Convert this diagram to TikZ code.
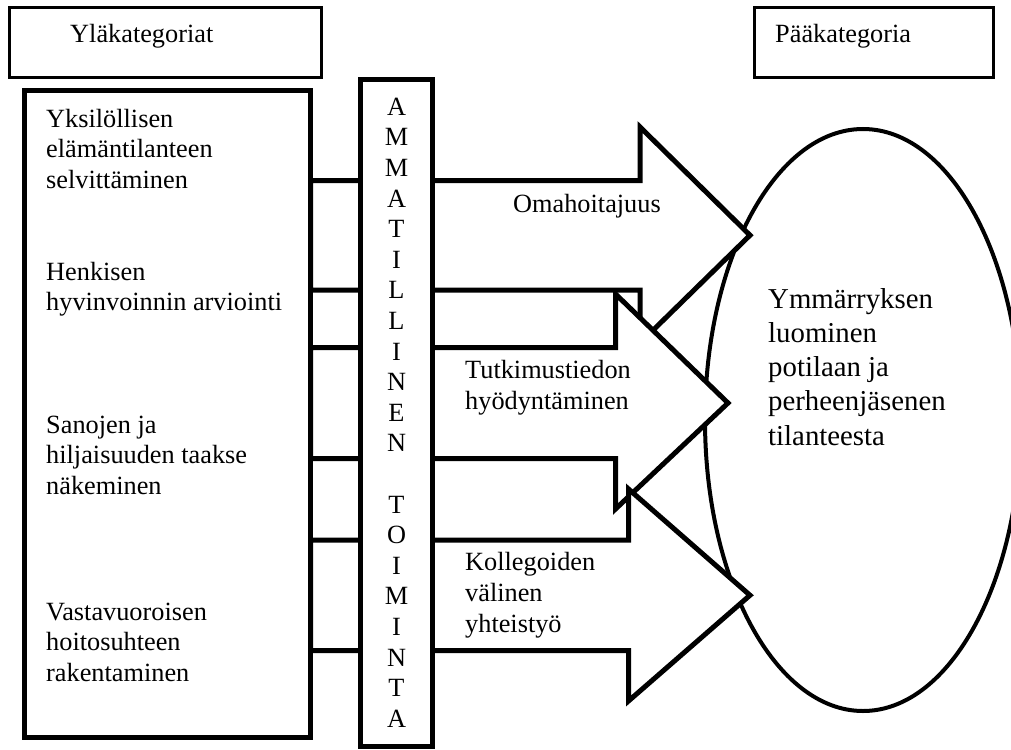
\documentclass[tikz,border=0pt]{standalone}
\usepackage{fontspec}
\setmainfont{Liberation Serif}
\usetikzlibrary{shapes.geometric}

% one block arrow: shaft from the category box to #3, head from #4 to #5, tip at x = #6
\newcommand\flowarrow[6]{%
  \draw[flow] (cats.east |- 0,#1) -- (#3,#1) -- (#3,#4) -- (#6,{(#1+#2)/2})
    -- (#3,#5) -- (#3,#2) -- (cats.east |- 0,#2) -- cycle;}

\begin{document}
\begin{tikzpicture}[x=1pt,y=-1pt,
  headbox/.style={draw, line width=3pt, inner sep=0pt},
  frame/.style={draw, line width=5pt, fill=white, inner sep=0pt, outer sep=0pt},
  flow/.style={draw, line width=5pt, fill=white, line join=miter, miter limit=10},
  body/.style={font=\fontsize{26.3}{30.5}\selectfont},
  txt/.style={body, inner sep=0pt, align=left, anchor=north west},
  lbl/.style={inner sep=0pt, align=left, anchor=north west, font=\fontsize{26.3}{31}\selectfont},
  title/.style={body, inner sep=0pt, anchor=base west}]
\useasboundingbox (0,0) rectangle (1011,749);
\clip (0,0) rectangle (1011,749);

% headings
\node[headbox, minimum width=312, minimum height=70] (upperbox) at (165.5,42.5) {};
\node[title] (uppertitle) at (70,43) {Yläkategoriat};
\node[headbox, minimum width=239, minimum height=70] (mainbox) at (874,42.5) {};
\node[title] (maintitle) at (775,43) {Pääkategoria};

% main category
\node[draw, line width=4pt, ellipse, inner sep=0pt,
      minimum width=316, minimum height=582] (main) at (863,420) {};

% upper categories
\node[frame, minimum width=286, minimum height=647] (cats) at (167.5,414) {};
\node[txt] (c1) at (46,105.65) {\strut Yksilöllisen\\elämäntilanteen\\selvittäminen};
\node[txt] (c2) at (46,258.65) {\strut Henkisen\\hyvinvoinnin arviointi};
\node[txt] (c3) at (46,411.65) {\strut Sanojen ja\\hiljaisuuden taakse\\näkeminen};
\node[txt] (c4) at (46,598.65) {\strut Vastavuoroisen\\hoitosuhteen\\rakentaminen};

% block arrows towards the main category
\flowarrow{180.5}{290}{640}{127}{343}{750}
\flowarrow{347.5}{458.5}{615.5}{294}{509}{728}
\flowarrow{540}{650.5}{628.5}{489}{701}{750}

\node[title] (a1) at (513,212) {Omahoitajuus};
\node[lbl] (a2) at (465,356.3) {\strut Tutkimustiedon\\hyödyntäminen};
\node[lbl] (a3) at (465,548.3) {\strut Kollegoiden\\välinen\\yhteistyö};

% vertical bar
\node[frame, minimum width=72, minimum height=667] (bar) at (396.5,413) {};
\node[inner sep=0pt, anchor=north, align=center,
      font=\fontsize{26.3}{30.6}\selectfont] (bartext) at (396.5,93.58)
  {\strut A\\M\\M\\A\\T\\I\\L\\L\\I\\N\\E\\N\\\strut\\T\\O\\I\\M\\I\\N\\T\\A};

% main category text
\node[inner sep=0pt, align=left, anchor=north west,
      font=\fontsize{28.8}{34.2}\selectfont] (maintext) at (768,284.06)
  {\strut Ymmärryksen\\luominen\\potilaan ja\\perheenjäsenen\\tilanteesta};
\end{tikzpicture}
\end{document}
